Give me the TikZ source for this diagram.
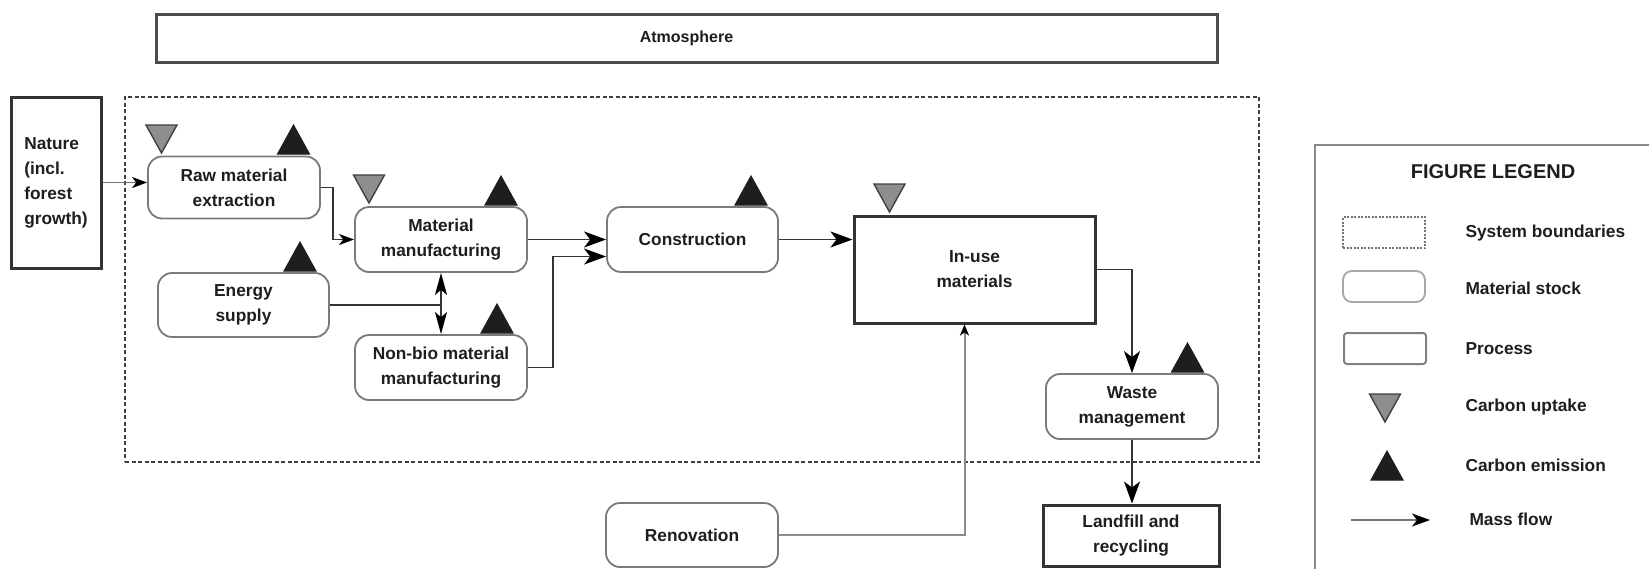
\documentclass[tikz,border=0pt]{standalone}
\usepackage{fontspec}
\setmainfont{Liberation Sans}
\usetikzlibrary{arrows.meta,calc}

\definecolor{inkc}{HTML}{1E1E1E}
\definecolor{linec}{HTML}{333333}
\definecolor{stockc}{HTML}{7A7A7A}
\definecolor{uptakec}{HTML}{8E8E8E}
\definecolor{legendc}{HTML}{8A8A8A}

\begin{document}
\begin{tikzpicture}[x=1pt,y=-1pt,
  txt/.style={font=\bfseries\fontsize{17.3}{25}\selectfont, text=inkc, align=center},
  stock/.style={txt, draw=stockc, line width=1.8pt, rounded corners=14pt, fill=white, inner sep=0pt},
  proc/.style={txt, draw=linec, line width=3pt, fill=white, inner sep=0pt},
  flow/.style={draw=linec, line width=1.8pt, -{Stealth[length=22pt,width=16pt,inset=6pt,color=black]}},
  smallflow/.style={draw=linec, line width=1.6pt, -{Stealth[length=15pt,width=11pt,inset=4pt,color=black]}},
  twoway/.style={draw=linec, line width=1.8pt,
      {Stealth[length=22pt,width=12pt,inset=5pt,color=black]}-{Stealth[length=22pt,width=12pt,inset=5pt,color=black]}},
  renoflow/.style={draw=black!45, line width=2pt, -{Stealth[length=11pt,width=9pt,inset=3pt,color=black]}},
  legtxt/.style={font=\bfseries\fontsize{17.3}{20}\selectfont, text=inkc, anchor=west},
  uptake/.pic={\filldraw[fill=uptakec, draw=black!75, line width=1.4pt, line join=miter]
      (-15.5,0) -- (15.5,0) -- (0,28) -- cycle;},
  emission/.pic={\filldraw[fill=inkc, draw=inkc, line width=1pt, line join=miter]
      (-16,0) -- (16,0) -- (0,-29) -- cycle;}
]
\clip (0,0) rectangle (1649,568);
\fill[white] (0,0) rectangle (1649,568);

% atmosphere and system boundary
\node[proc, line width=3pt, draw=black!70, minimum width=1061pt, minimum height=48pt,
      font=\bfseries\fontsize{16}{20}\selectfont] (atm) at (686.5,38) {Atmosphere};
\node[draw=black!75, line width=1.8pt, dash pattern=on 4pt off 2.5pt,
      minimum width=1134pt, minimum height=365pt, inner sep=0pt] (sysb) at (692,279.5) {};

% stocks and processes
\node[proc, minimum width=90pt, minimum height=171pt, align=left] (nature) at (56,182.5)
     {Nature\\(incl.\\forest\\growth)};
\node[stock, minimum width=172pt, minimum height=62pt] (raw) at (234,187.5) {Raw material\\extraction};
\node[stock, minimum width=172pt, minimum height=65pt] (mm) at (441,239.5) {Material\\manufacturing};
\node[stock, minimum width=171pt, minimum height=64pt] (energy) at (243.5,305) {Energy\\supply};
\node[stock, minimum width=172pt, minimum height=65pt] (nonbio) at (441,367.5) {Non-bio material\\manufacturing};
\node[stock, minimum width=171pt, minimum height=65pt] (constr) at (692.5,239.5) {Construction};
\node[proc, minimum width=241pt, minimum height=107pt] (inuse) at (974.5,269.5) {In-use\\materials};
\node[stock, minimum width=172pt, minimum height=65pt] (waste) at (1132,406.5) {Waste\\management};
\node[proc, minimum width=176pt, minimum height=61pt] (landfill) at (1131,535.5) {Landfill and\\recycling};
\node[stock, minimum width=172pt, minimum height=64pt] (renov) at (692,535) {Renovation};

% carbon uptake and emission markers
\pic at (161.5,125) {uptake};
\pic at (293.5,154) {emission};
\pic at (369,175) {uptake};
\pic at (501,205) {emission};
\pic at (300,271) {emission};
\pic at (497,333) {emission};
\pic at (751,205) {emission};
\pic at (889.5,184) {uptake};
\pic at (1187.5,372) {emission};

% mass flows
\draw[smallflow, draw=black!55] (nature.east) -- (nature.east -| raw.west);
\draw[smallflow] (raw.east) -- ++(12,0) |- (mm.west);
\draw[flow] (mm.east) -- (constr.west);
\draw[flow] (nonbio.east) -- ++(25,0) |- ($(constr.west)+(0,17)$);
\draw[flow] (constr.east) -- (constr.east -| inuse.west);
\draw[twoway] (mm.south) -- (nonbio.north);
\draw[draw=linec, line width=1.8pt] (energy.east) -- (energy.east -| mm.south);
\draw[flow] (inuse.east) -| (waste.north);
\draw[flow] (waste.south) -- (waste.south |- landfill.north);
\draw[renoflow] (renov.east) -| ($(inuse.south)+(-10,0)$);

% legend
\node[draw=legendc, line width=2pt, minimum width=350pt, minimum height=445pt, inner sep=0pt]
     (legend) at (1490,367.5) {};
\node[font=\bfseries\fontsize{20}{22}\selectfont, text=inkc] (legtitle) at (1493,172) {FIGURE LEGEND};
\node[draw=black!55, line width=1.4pt, dash pattern=on 2pt off 1.5pt,
      minimum width=82pt, minimum height=31pt, inner sep=0pt] (keysb) at (1384,232.5) {};
\node[draw=black!35, line width=1.8pt, rounded corners=9pt,
      minimum width=82pt, minimum height=31pt, inner sep=0pt] (keyms) at (1384,286.5) {};
\node[draw=black!50, line width=2pt, rounded corners=3pt,
      minimum width=82pt, minimum height=31pt, inner sep=0pt] (keyproc) at (1385,348.5) {};
\pic at (1385,394) {uptake};
\pic at (1387,480) {emission};
\coordinate (keyfrom) at (1351,520);
\coordinate (keyto) at (1430,520);
\draw[draw=black!55, line width=2pt, -{Stealth[length=18pt,width=13pt,inset=5pt,color=black]}] (keyfrom) -- (keyto);
\node[legtxt] (lsb) at (1462,233) {System boundaries};
\node[legtxt] (lms) at (1462,288) {Material stock};
\node[legtxt] (lproc) at (1462,349) {Process};
\node[legtxt] (lup) at (1462,407) {Carbon uptake};
\node[legtxt] (lem) at (1462,465) {Carbon emission};
\node[legtxt] (lflow) at (1466,519) {Mass flow};
\end{tikzpicture}
\end{document}
